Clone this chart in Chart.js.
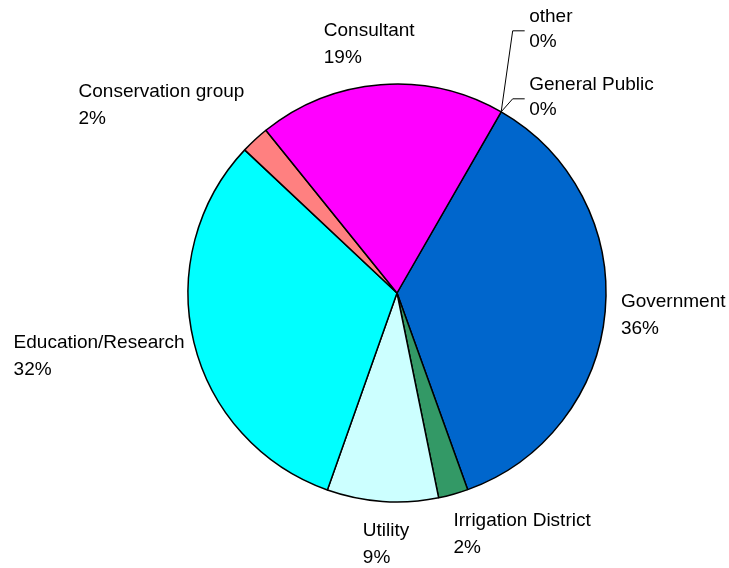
<!DOCTYPE html>
<html>
<head>
<meta charset="utf-8">
<script src="https://cdn.jsdelivr.net/npm/chart.js@4"></script>
<style>
  html, body { margin: 0; padding: 0; background: #fff; }
  #wrap { width: 729px; height: 568px; position: relative; }
</style>
</head>
<body>
<div id="wrap"><canvas id="main-chart"></canvas></div>
<script>
// Respondent categories, in slice order (clockwise)
const categories = ['other', 'General Public', 'Government', 'Irrigation District', 'Utility', 'Education/Research', 'Conservation group', 'Consultant'];
const shares     = [0, 0, 36.2, 2.3, 8.6, 31.6, 2.2, 19.1];
const colors     = ['#9999FF', '#993366', '#0066CC', '#339966', '#CCFFFF', '#00FFFF', '#FF8080', '#FF00FF'];

const FONT = '19px "Liberation Sans", Arial, sans-serif';
const LINE = 27;

// small hand nudges for the non-zero labels (Excel "best fit" placement)
const nudge = [[0, 0], [0, 0], [4, -1.5], [47, -2], [6, -1], [0, 2.5], [-29, -5], [-7, 0]];

const labelPlugin = {
  id: 'pie-labels',
  afterDraw(ch) {
    const {ctx} = ch;
    const meta = ch.getDatasetMeta(0);
    const total = shares.reduce((a, b) => a + b, 0);
    ctx.save();
    ctx.font = FONT;
    ctx.fillStyle = '#000';
    ctx.strokeStyle = '#000';
    ctx.lineWidth = 1;
    ctx.textAlign = 'left';
    ctx.textBaseline = 'alphabetic';
    let zeroIdx = 0;
    const zeros = shares.filter(v => v === 0).length;
    meta.data.forEach((arc, i) => {
      const {x, y, startAngle, endAngle, outerRadius} = arc.getProps(['x', 'y', 'startAngle', 'endAngle', 'outerRadius'], true);
      const mid = (startAngle + endAngle) / 2;
      const pct = Math.round(shares[i] / total * 100) + '%';
      const lines = [categories[i], pct];
      if (shares[i] === 0) {
        // zero slices: stacked labels with elbow leader lines
        const ex = x + Math.cos(mid) * outerRadius;
        const ey = y + Math.sin(mid) * outerRadius;
        const level = zeros - 1 - zeroIdx++;
        const base = ey - 22 - level * 68;
        const ly = base + 9;
        ctx.beginPath();
        ctx.moveTo(ex, ey);
        ctx.lineTo(ex + 11.5, ly);
        ctx.lineTo(ex + 23.5, ly);
        ctx.stroke();
        lines.forEach((t, k) => ctx.fillText(t, ex + 28, base + k * (LINE - 2)));
        return;
      }
      const R = outerRadius + 12;
      const ax = x + Math.cos(mid) * R;
      const ay = y + Math.sin(mid) * R;
      const s = Math.cos(mid);   // horizontal component
      const c = -Math.sin(mid);  // vertical (up) component
      const w = Math.max(...lines.map(t => ctx.measureText(t).width));
      const lx = ax + (s - 1) * w / 2 + nudge[i][0];
      const by = ay - 6.5 - c * 30 + nudge[i][1];
      lines.forEach((t, k) => ctx.fillText(t, lx, by + k * LINE));
    });
    ctx.restore();
  }
};

new Chart(document.getElementById('main-chart'), {
  type: 'pie',
  data: {
    labels: categories,
    datasets: [{
      data: shares,
      backgroundColor: colors,
      borderColor: '#000',
      borderWidth: 1.5,
    }]
  },
  options: {
    responsive: true, maintainAspectRatio: false,
    animation: false,
    rotation: 29.9,
    radius: 209,
    layout: { padding: { left: 65, top: 18 } },
    plugins: {
      legend: { display: false },
      tooltip: { enabled: false }
    }
  },
  plugins: [labelPlugin]
});
</script>
</body>
</html>
